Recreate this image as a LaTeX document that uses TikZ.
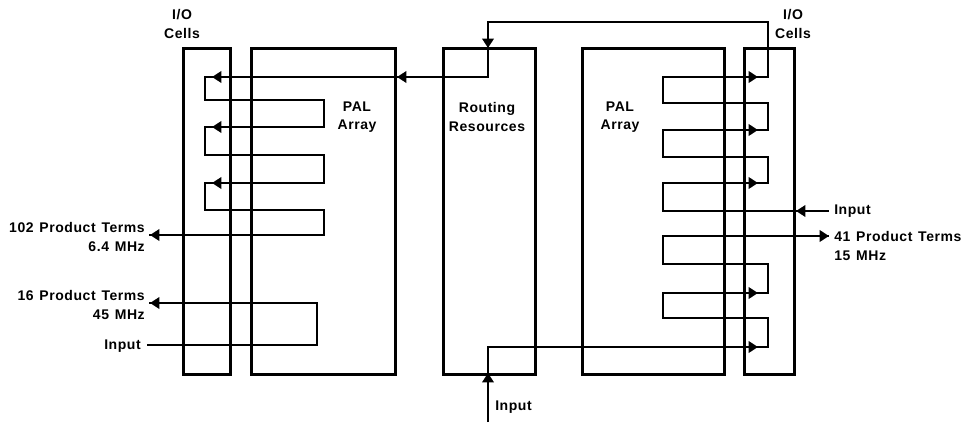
\documentclass[tikz,border=0pt]{standalone}
\usepackage{fontspec}
\setmainfont{Liberation Sans}[LetterSpace=4.0, WordSpace=1.3]
\usetikzlibrary{arrows.meta}
\begin{document}
\begin{tikzpicture}[x=0.75pt,y=-0.75pt,
  box/.style={draw, line width=2.4pt, inner sep=0pt, anchor=north west, minimum height=244.5pt},
  wire/.style={line width=2pt, line join=miter, line cap=rect},
  thinwire/.style={line width=1.6pt, line join=miter},
  tip/.style={-{Triangle[length=7pt,width=8.5pt]}, line width=2pt},
  lbl/.style={inner sep=0pt, font=\fontsize{10.5}{13.8}\selectfont\bfseries}
]
\useasboundingbox (0,0) rectangle (962,424);

% boxes
\node[box, minimum width=35.25pt] (ioL) at (182,47) {};
\node[box, minimum width=108pt] (palL) at (250,47) {};
\node[box, minimum width=69pt] (rout) at (442,47) {};
\node[box, minimum width=106.5pt] (palR) at (581,47) {};
\node[box, minimum width=37.5pt] (ioR) at (743,47) {};

% labels
\node[lbl, align=center] (tIOL) at (182,24) {I/O\\Cells};
\node[lbl, align=center] (tIOR) at (793,24) {I/O\\Cells};
\node[lbl, align=center] (tPALL) at (357,117) {PAL\\Array};
\node[lbl, align=center] (tRout) at (487,117) {Routing\\Resources};
\node[lbl, align=center] (tPALR) at (620,117) {PAL\\Array};
\node[lbl, align=right, anchor=east] (t102) at (145,237) {102 Product Terms\\6.4 MHz};
\node[lbl, align=right, anchor=east] (t16) at (145,305) {16 Product Terms\\45 MHz};
\node[lbl, anchor=east] (tinL) at (141,346) {Input};
\node[lbl, anchor=west] (tinR) at (834,211) {Input};
\node[lbl, align=left, anchor=west] (t41) at (834,246) {41 Product Terms\\15 MHz};
\node[lbl, anchor=west] (tinB) at (495,407) {Input};

% coordinates: long serpentine (right input -> left 102 PT output)
\coordinate (a0) at (828,211);
\coordinate (r1) at (663,211);
\coordinate (r2) at (663,183);
\coordinate (r3) at (768,183);
\coordinate (r4) at (768,157);
\coordinate (r5) at (663,157);
\coordinate (r6) at (663,130);
\coordinate (r7) at (768,130);
\coordinate (r8) at (768,103);
\coordinate (r9) at (663,103);
\coordinate (r10) at (663,77);
\coordinate (r11) at (768,77);
\coordinate (r12) at (768,22);
\coordinate (r13) at (488,22);
\coordinate (r14) at (488,77);
\coordinate (l1) at (205,77);
\coordinate (l2) at (205,100);
\coordinate (l3) at (324,100);
\coordinate (l4) at (324,127);
\coordinate (l5) at (205,127);
\coordinate (l6) at (205,155);
\coordinate (l7) at (324,155);
\coordinate (l8) at (324,183);
\coordinate (l9) at (205,183);
\coordinate (l10) at (205,210);
\coordinate (l11) at (324,210);
\coordinate (l12) at (324,235);
\coordinate (o102) at (150,235);

\draw[wire] (a0) -- (r1) -- (r2) -- (r3) -- (r4) -- (r5) -- (r6) -- (r7) -- (r8) -- (r9) -- (r10) -- (r11) -- (r12) -- (r13) -- (r14) -- (l1) -- (l2) -- (l3) -- (l4) -- (l5) -- (l6) -- (l7) -- (l8) -- (l9) -- (l10) -- (l11) -- (l12) -- (o102);

% arrowheads on the long serpentine
\draw[tip] (810,211) -- (796,211);
\draw[tip] (740,183) -- (758,183);
\draw[tip] (740,130) -- (758,130);
\draw[tip] (740,77) -- (758,77);
\draw[tip] (488,30) -- (488,48);
\draw[tip] (415,77) -- (397,77);
\draw[tip] (230,77) -- (212,77);
\draw[tip] (230,127) -- (212,127);
\draw[tip] (230,183) -- (212,183);
\draw[tip] (170,235) -- (150,235);

% left input -> 16 product terms
\coordinate (i16a) at (148,345);
\coordinate (i16b) at (317,345);
\coordinate (i16c) at (317,303);
\coordinate (o16) at (150,303);
\draw[wire] (i16a) -- (i16b) -- (i16c) -- (o16);
\draw[tip] (170,303) -- (150,303);

% bottom input -> 41 product terms
\coordinate (b0) at (488,422);
\coordinate (b1) at (488,347);
\coordinate (b2) at (768,347);
\coordinate (b3) at (768,318);
\coordinate (b4) at (663,318);
\coordinate (b5) at (663,293);
\coordinate (b6) at (768,293);
\coordinate (b7) at (768,264);
\coordinate (b8) at (663,264);
\coordinate (b9) at (663,236);
\coordinate (o41) at (828,236);
\draw[thinwire] (b0) -- (b1) -- (b2);
\draw[wire] (b2) -- (b3) -- (b4) -- (b5) -- (b6) -- (b7) -- (b8) -- (b9) -- (o41);
\draw[tip] (488,392) -- (488,373);
\draw[tip] (740,347) -- (758,347);
\draw[tip] (740,293) -- (758,293);
\draw[tip] (810,236) -- (829,236);
\end{tikzpicture}
\end{document}
